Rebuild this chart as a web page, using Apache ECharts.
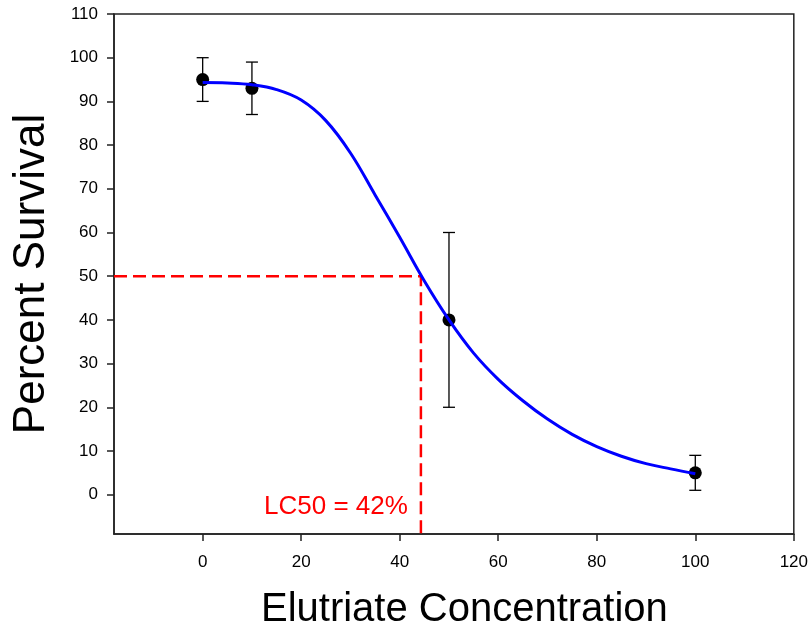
<!DOCTYPE html>
<html><head><meta charset="utf-8">
<script src="https://cdn.jsdelivr.net/npm/echarts@6/dist/echarts.min.js"></script>
<style>html,body{margin:0;padding:0;background:#fff}#c{width:811px;height:635px}</style>
</head><body><div id="c"></div>
<script>
// observed points
const concX = [0, 10, 50, 100];
const survival = [95, 93, 40, 5];
const errLow = [90, 87, 20, 1];
const errHigh = [100, 99, 60, 9];
// fitted curve
const curveX = [0, 5, 10, 15, 20, 25, 30, 35, 40, 45, 50, 55, 60, 65, 70, 75, 80, 85, 90, 95, 100];
const curveY = [94.3, 94.2, 93.8, 92.7, 90.3, 85.6, 78.2, 68.6, 58.9, 48.9, 40.0, 32.4, 26.4, 21.5, 17.3, 13.8, 11.0, 8.8, 7.1, 5.9, 4.8];
// LC50 reference
const lc50X = 44.3;
const lc50Y = 50;
const xTicks = [0, 20, 40, 60, 80, 100, 120];
const yTicks = [0, 10, 20, 30, 40, 50, 60, 70, 80, 90, 100, 110];
const xMin = -18, xMax = 120, yMin = -9, yMax = 110;

const chart = echarts.init(document.getElementById('c'));
const axisColor = '#222';
chart.setOption({
  animation: false,
  grid: {left: 114, right: 16, top: 14, bottom: 100, show: true, borderColor: axisColor, borderWidth: 1.5},
  xAxis: {
    type: 'value', min: xMin, max: xMax,
    name: 'Elutriate Concentration', nameLocation: 'middle', nameGap: 56,
    nameTextStyle: {fontFamily: 'Liberation Sans', fontSize: 40, color: '#000', padding: [0, 0, 0, 21]},
    axisLine: {onZero: false, lineStyle: {color: axisColor, width: 1.5}},
    axisTick: {show: true, length: 7, inside: false, customValues: xTicks, lineStyle: {color: axisColor, width: 1.5}},
    axisLabel: {customValues: xTicks, fontFamily: 'Liberation Sans', fontSize: 17, color: '#000', margin: 20},
    splitLine: {show: false}
  },
  yAxis: {
    type: 'value', min: yMin, max: yMax,
    name: 'Percent Survival', nameLocation: 'middle', nameGap: 60,
    nameTextStyle: {fontFamily: 'Liberation Sans', fontSize: 44, color: '#000'},
    axisLine: {onZero: false, lineStyle: {color: axisColor, width: 1.5}},
    axisTick: {show: true, length: 7, inside: false, customValues: yTicks, lineStyle: {color: axisColor, width: 1.5}},
    axisLabel: {customValues: yTicks, fontFamily: 'Liberation Sans', fontSize: 17, color: '#000', margin: 16},
    splitLine: {show: false}
  },
  graphic: [{
    type: 'text', left: 264, top: 494,
    style: {text: 'LC50 = 42%', fill: '#ff0000', font: '26px "Liberation Sans"'}
  }],
  series: [
    {
      type: 'line', data: [[xMin, lc50Y], [lc50X, lc50Y], [lc50X, yMin]],
      symbol: 'none', lineStyle: {color: '#ff0000', width: 2.5, type: [13, 6]}, z: 1
    },
    {
      type: 'custom', z: 2,
      data: concX.map((x, i) => [x, errLow[i], errHigh[i]]),
      renderItem: function (params, api) {
        const lo = api.coord([api.value(0), api.value(1)]);
        const hi = api.coord([api.value(0), api.value(2)]);
        const w = 6;
        const st = {stroke: '#000', lineWidth: 1.3};
        return {type: 'group', children: [
          {type: 'line', shape: {x1: lo[0], y1: lo[1], x2: hi[0], y2: hi[1]}, style: st},
          {type: 'line', shape: {x1: lo[0] - w, y1: lo[1], x2: lo[0] + w, y2: lo[1]}, style: st},
          {type: 'line', shape: {x1: hi[0] - w, y1: hi[1], x2: hi[0] + w, y2: hi[1]}, style: st}
        ]};
      }
    },
    {
      type: 'scatter', z: 3, data: concX.map((x, i) => [x, survival[i]]),
      symbol: 'circle', symbolSize: 13, itemStyle: {color: '#000', opacity: 1}
    },
    {
      type: 'line', z: 4, data: curveX.map((x, i) => [x, curveY[i]]),
      smooth: 0.4, symbol: 'none', lineStyle: {color: '#0000ff', width: 3}
    }
  ]
});
</script></body></html>
